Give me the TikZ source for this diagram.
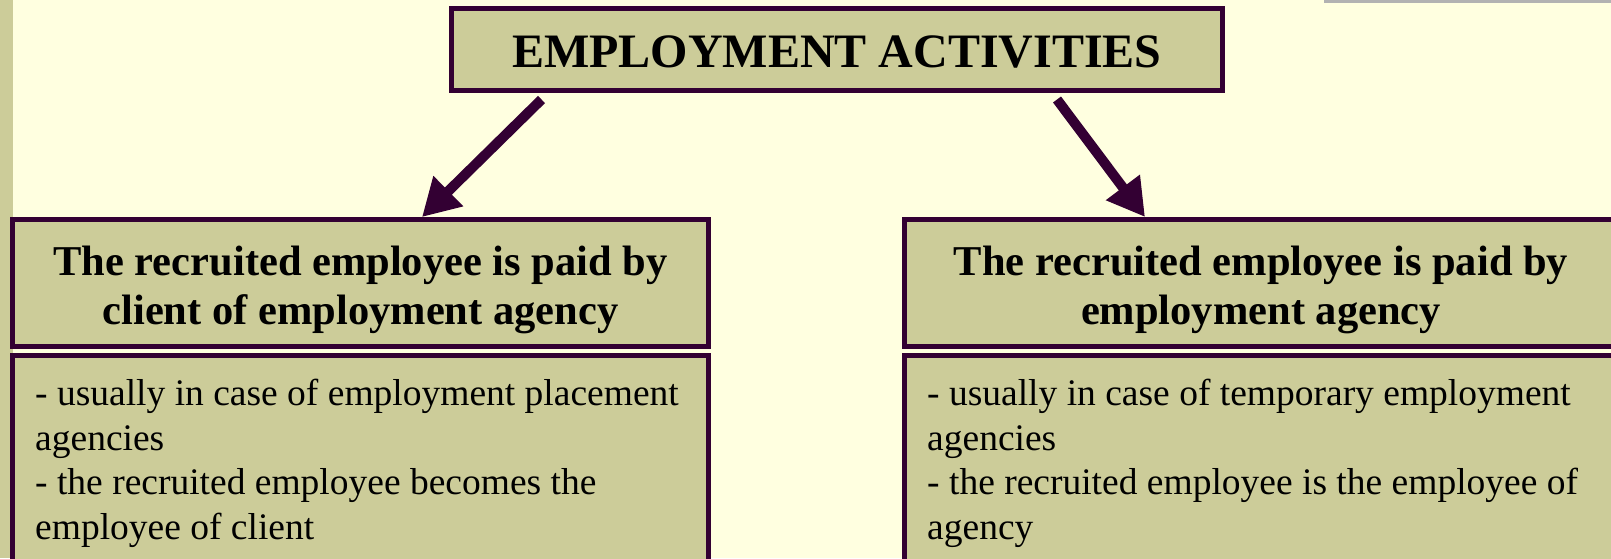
\documentclass[tikz,border=0pt]{standalone}
\usepackage{fontspec}
\setmainfont{Liberation Serif}
\usetikzlibrary{calc,arrows.meta}

\definecolor{paper}{HTML}{FFFFE0}
\definecolor{khaki}{HTML}{CCCC99}
\definecolor{darkplum}{HTML}{330033}
\definecolor{rulegrey}{HTML}{B2B2B2}

\tikzset{
	panel/.style={draw=darkplum, fill=khaki, line width=5pt, inner sep=0pt},
	headline/.style={font=\fontsize{48}{56}\selectfont\bfseries, inner sep=0pt},
	heading/.style={font=\fontsize{42.5}{48.5}\selectfont\bfseries, align=center, inner sep=0pt},
	remark/.style={font=\fontsize{37.5}{44.5}\selectfont, align=left, inner sep=0pt, anchor=north west},
	pointer/.style={draw=darkplum, line width=10pt, -{Triangle[length=37pt,width=40pt]}}
}

\begin{document}
\begin{tikzpicture}[x=1pt, y=-1pt]
		%%%%% START %%%%%
		
		\useasboundingbox (0, 0) rectangle (1611, 558);
		\clip (0, 0) rectangle (1611, 558);
		\fill[paper] (0, 0) rectangle (1611, 558);
		
		% side strip and top rule
		\fill[khaki] (0, 0) rectangle (13, 558);
		\fill[rulegrey] (1324, 0) rectangle (1611, 3);
		
		% title
		\node[panel, minimum width=771pt, minimum height=82pt] (title) at (837, 49.5) {};
		\node[headline] (titleText) at ($(title.center)+(0, 2.6)$) {EMPLOYMENT ACTIVITIES};
		
		% who pays: client
		\node[panel, minimum width=696pt, minimum height=127pt] (payClient) at (360.5, 283) {};
		\node[heading] (payClientText) at ($(payClient.center)+(0, 7)$) {The recruited employee is paid by\\client of employment agency};
		\node[panel, minimum width=696pt, minimum height=212pt] (noteClient) at (360.5, 461.5) {};
		\node[remark] (noteClientText) at ($(noteClient.north west)+(25, 26)$) {- usually in case of employment placement\\agencies\\- the recruited employee becomes the\\employee of client};
		
		% who pays: agency
		\node[panel, minimum width=713pt, minimum height=127pt] (payAgency) at (1261, 283) {};
		\node[heading] (payAgencyText) at ($(payAgency.center)+(0, 7)$) {The recruited employee is paid by\\employment agency};
		\node[panel, minimum width=713pt, minimum height=212pt] (noteAgency) at (1261, 461.5) {};
		\node[remark] (noteAgencyText) at ($(noteAgency.north west)+(25, 26)$) {- usually in case of temporary employment\\agencies\\- the recruited employee is the employee of\\agency};
		
		% arrows
		\coordinate (tailClient) at ($(title.south west)+(92.5, 6.5)$);
		\coordinate (tailAgency) at ($(title.south west)+(608, 6.5)$);
		\draw[pointer] (tailClient) -- ($(payClient.north west)+(412, 0)$);
		\draw[pointer] (tailAgency) -- ($(payAgency.north west)+(243, 0)$);
		
		%%%%% END %%%%%
\end{tikzpicture}
\end{document}
